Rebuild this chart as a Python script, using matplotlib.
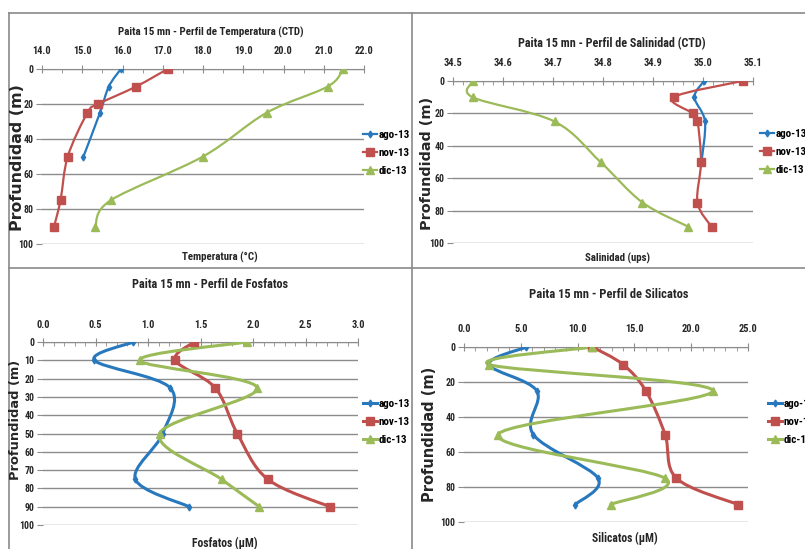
import numpy as np
import matplotlib
matplotlib.use("Agg")
import matplotlib.pyplot as plt
from matplotlib import font_manager as fm
from matplotlib.path import Path
from matplotlib.patches import PathPatch
from matplotlib.lines import Line2D
from matplotlib.ticker import MultipleLocator, FormatStrFormatter

# ── Data ──────────────────────────────────────────────────────────────────── #
SERIES = ["ago-13", "nov-13", "dic-13"]

# Temperature (°C)
temp_ago_depth = [0, 10, 25, 50]
temp_ago = [15.96, 15.66, 15.44, 15.03]
temp_nov_depth = [0, 10, 20, 25, 50, 75, 90]
temp_nov = [17.12, 16.34, 15.40, 15.13, 14.64, 14.46, 14.30]
temp_dic_depth = [0, 10, 25, 50, 75, 90]
temp_dic = [21.48, 21.10, 19.58, 18.00, 15.71, 15.32]

# Salinity (ups)
sal_ago_depth = [0, 10, 25, 50]
sal_ago = [35.002, 34.983, 35.004, 34.997]
sal_nov_depth = [0, 10, 20, 25, 50, 75, 90]
sal_nov = [35.079, 34.941, 34.979, 34.989, 34.996, 34.989, 35.017]
sal_dic_depth = [0, 10, 25, 50, 75, 90]
sal_dic = [34.541, 34.539, 34.703, 34.795, 34.879, 34.971]

# Phosphate (µM)
fos_depth = [0, 10, 25, 50, 75, 90]
fos_ago = [0.86, 0.49, 1.21, 1.14, 0.88, 1.39]
fos_nov = [1.44, 1.26, 1.64, 1.85, 2.14, 2.73]
fos_dic = [1.94, 0.92, 2.04, 1.11, 1.70, 2.06]

# Silicate (µM)
sil_depth = [0, 10, 25, 50, 75, 90]
sil_ago = [5.5, 2.2, 6.4, 6.1, 11.8, 9.8]
sil_nov = [11.3, 14.0, 16.0, 17.7, 18.7, 24.1]
sil_dic = [11.3, 2.2, 21.9, 3.0, 17.7, 12.9]

# ── Fonts: prefer a condensed face (Excel/Calibri look) ───────────────────── #
names = {f.name for f in fm.fontManager.ttflist}
NARROW = "Liberation Sans"
STRETCH = "normal"
for cand in ["Liberation Sans Narrow", "Roboto Condensed", "DejaVu Sans Condensed",
             "Noto Sans Condensed", "Open Sans Condensed"]:
    if cand in names:
        NARROW = cand
        break
else:
    for f in fm.fontManager.ttflist:
        if f.name in ("Noto Sans", "Roboto", "Open Sans", "DejaVu Sans") and \
                f.stretch in ("condensed", "semi-condensed"):
            NARROW, STRETCH = f.name, f.stretch
            break
plt.rcParams["font.family"] = [NARROW, "DejaVu Sans"]
plt.rcParams["font.stretch"] = STRETCH

COLORS = {"ago-13": "#2878BD", "nov-13": "#C0504D", "dic-13": "#9BBB59"}
MARKERS = {"ago-13": ("d", 3.5), "nov-13": ("s", 5.5), "dic-13": ("^", 6)}
GRID = "#8c8c8c"
TEXT = "#262626"
TICK_X = 7.5
TICK_Y = 7

W, H = 805, 549
fig = plt.figure(figsize=(W / 100, H / 100), dpi=100)
renderer = fig.canvas.get_renderer()


def fx(x):
    return x / W


def fy(y):
    return 1 - y / H


def size_for(text, target_px, weight="bold", family=None, boost=1.0):
    """Font size at which `text` is about target_px wide (times boost)."""
    t = fig.text(0, 0, text, fontsize=10, fontweight=weight,
                 family=family or [NARROW, "DejaVu Sans"])
    bb = t.get_window_extent(renderer)
    t.remove()
    return boost * 10 * target_px / bb.width


LEG = size_for("nov-13", 27, boost=1.15)


def smooth_path(x, y):
    """Excel-like smoothed line (Catmull-Rom as cubic Bezier)."""
    pts = np.column_stack([x, y]).astype(float)
    n = len(pts)
    verts = [pts[0]]
    codes = [Path.MOVETO]
    for i in range(n - 1):
        p0 = pts[i - 1] if i > 0 else pts[i]
        p1, p2 = pts[i], pts[i + 1]
        p3 = pts[i + 2] if i + 2 < n else pts[i + 1]
        verts += [p1 + (p2 - p0) / 6, p2 - (p3 - p1) / 6, p2]
        codes += [Path.CURVE4] * 3
    return Path(verts, codes)


def panel(box, data, xlim, xmajor, xminor, ymajor, lw,
          title, title_xy, title_w, xlabel, xlabel_xy, xlabel_w,
          ylabel_xy, ylabel_h, legend_xy):
    l, t, r, b = box
    ax = fig.add_axes([fx(l), fy(b), fx(r) - fx(l), fy(t) - fy(b)])
    for name, (vals, depth) in zip(SERIES, data):
        ax.add_patch(PathPatch(smooth_path(vals, depth), fill=False,
                               edgecolor=COLORS[name], lw=lw, zorder=3,
                               capstyle="round", joinstyle="round"))
        m, ms = MARKERS[name]
        ax.plot(vals, depth, ls="none", marker=m, ms=ms,
                color=COLORS[name], zorder=4)
    ax.set_xlim(*xlim)
    ax.set_ylim(100, 0)
    ax.xaxis.tick_top()
    ax.xaxis.set_major_locator(MultipleLocator(xmajor))
    ax.xaxis.set_minor_locator(MultipleLocator(xminor))
    ax.yaxis.set_major_locator(MultipleLocator(ymajor))
    ax.xaxis.set_major_formatter(FormatStrFormatter("%.1f"))
    for s in ["left", "right", "bottom"]:
        ax.spines[s].set_visible(False)
    ax.spines["top"].set_color(GRID)
    ax.yaxis.grid(True, color=GRID, lw=1.0)
    ax.set_axisbelow(True)
    ax.tick_params(axis="x", which="major", direction="inout", length=6,
                   color=GRID, labelsize=TICK_X, labelcolor=TEXT, pad=6)
    ax.tick_params(axis="x", which="minor", direction="in", length=3,
                   color=GRID)
    ax.tick_params(axis="y", direction="out", length=4, color=GRID,
                   labelsize=TICK_Y, labelcolor=TEXT, pad=2)
    for lab in ax.get_xticklabels() + ax.get_yticklabels():
        lab.set_fontweight("bold")

    fig.text(fx(title_xy[0]), fy(title_xy[1]), title, ha="center",
             va="center", fontweight="bold", color=TEXT,
             fontsize=size_for(title, title_w, boost=1.08))
    fig.text(fx(xlabel_xy[0]), fy(xlabel_xy[1]), xlabel, ha="center",
             va="center", fontweight="bold", color=TEXT,
             fontsize=size_for(xlabel, xlabel_w, boost=1.0))
    fig.text(fx(ylabel_xy[0]), fy(ylabel_xy[1]), "Profundidad (m)",
             ha="center", va="center", rotation=90, fontweight="bold",
             family="DejaVu Sans", color=TEXT,
             fontsize=size_for("Profundidad (m)", ylabel_h,
                               family="DejaVu Sans"))

    handles = [Line2D([], [], color=COLORS[n], lw=lw, marker=MARKERS[n][0],
                      ms=MARKERS[n][1]) for n in SERIES]
    fig.legend(handles, SERIES, loc="center left",
               bbox_to_anchor=(fx(legend_xy[0]), fy(legend_xy[1])),
               frameon=False, handlelength=1.3, handletextpad=0.15,
               labelspacing=0.75, borderpad=0, borderaxespad=0,
               prop={"size": LEG, "weight": "bold"})
    return ax


panel((42, 69, 364, 244),
      [(temp_ago, temp_ago_depth), (temp_nov, temp_nov_depth),
       (temp_dic, temp_dic_depth)],
      (14.0, 22.0), 1.0, 0.5, 20, 1.6,
      "Paita 15 mn - Perfil de Temperatura (CTD)", (211, 32), 173,
      "Temperatura (°C)", (220, 257), 76,
      (17, 158), 147, (363, 153))

panel((453, 81, 753, 243),
      [(sal_ago, sal_ago_depth), (sal_nov, sal_nov_depth),
       (sal_dic, sal_dic_depth)],
      (34.5, 35.1), 0.1, 0.02, 20, 1.6,
      "Paita 15 mn - Perfil de Salinidad (CTD)", (612, 44), 175,
      "Salinidad (ups)", (618, 258), 66,
      (427, 163), 133, (760, 152))

panel((43, 342, 358, 525),
      [(fos_ago, fos_depth), (fos_nov, fos_depth), (fos_dic, fos_depth)],
      (0.0, 3.0), 0.5, 0.1, 10, 2.2,
      "Paita 15 mn - Perfil de Fosfatos", (210, 285), 145,
      "Fosfatos (µM)", (225, 543), 66,
      (16, 420), 120, (363, 422))

panel((464, 347, 748, 522),
      [(sil_ago, sil_depth), (sil_nov, sil_depth), (sil_dic, sil_depth)],
      (0.0, 25.0), 5.0, 1.0, 20, 2.2,
      "Paita 15 mn - Perfil de Silicatos", (609, 295), 148,
      "Silicatos (µM)", (625, 538), 66,
      (429, 434), 135, (768, 422))

# panel borders
for xs, ys in [((9, 805), (13, 13)), ((9, 9), (13, 549)),
               ((412, 412), (13, 549)), ((9, 805), (268, 268))]:
    fig.add_artist(Line2D([fx(v) for v in xs], [fy(v) for v in ys],
                          color="#8a8a8a", lw=1.2))

fig.savefig("out.png", dpi=100)
